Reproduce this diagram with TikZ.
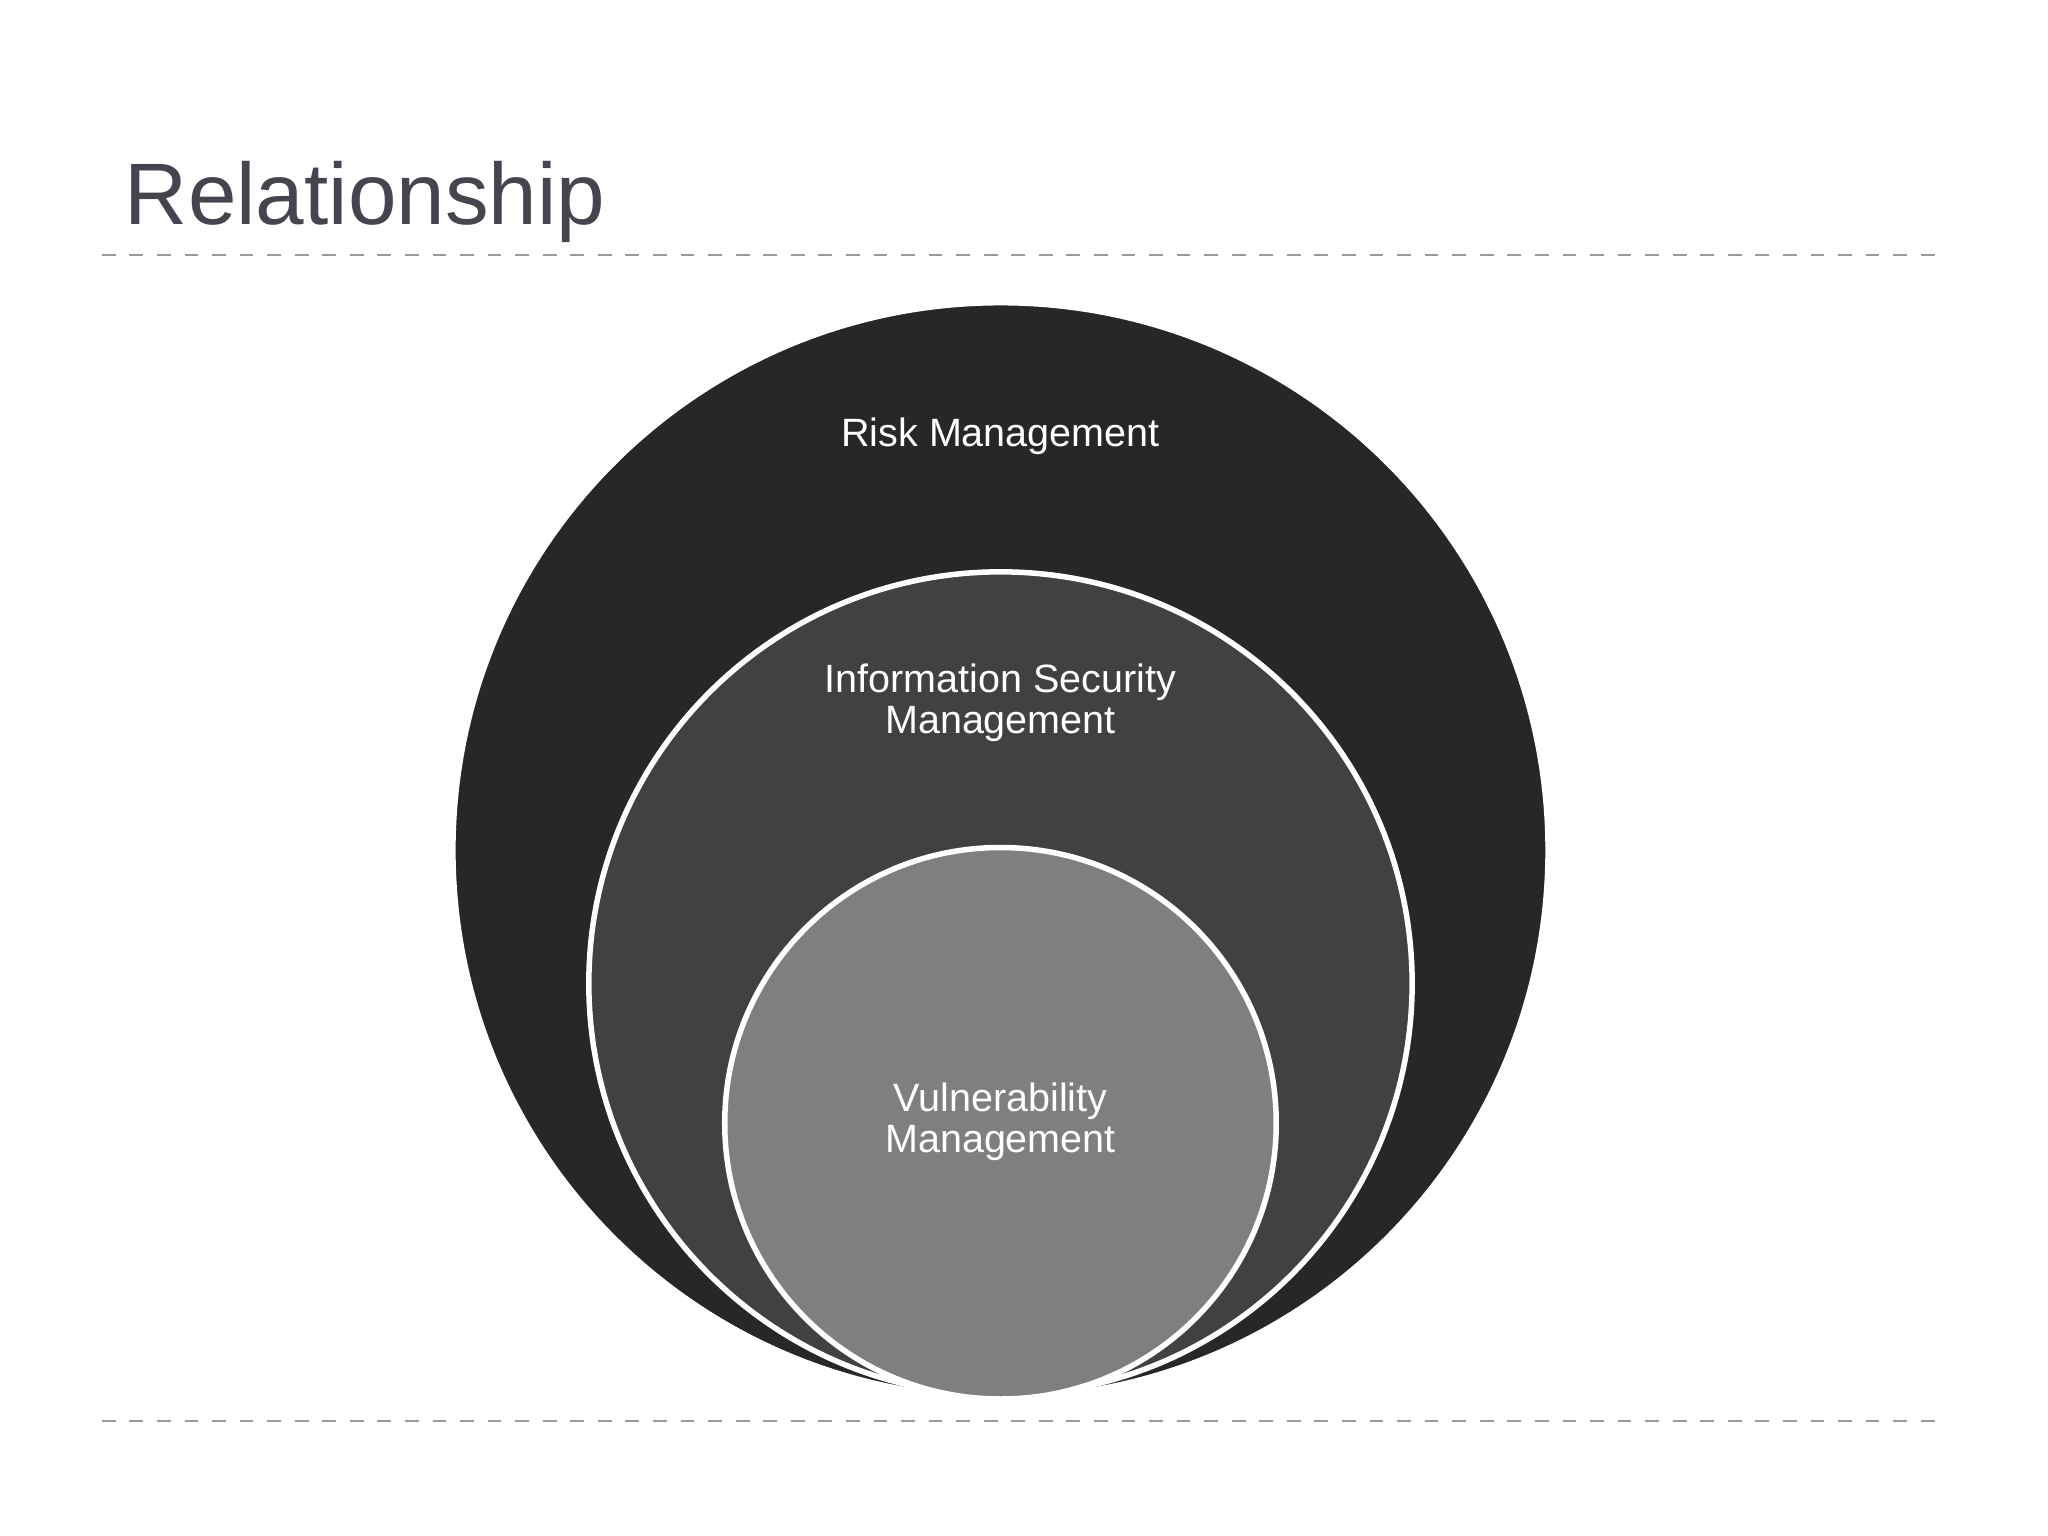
\documentclass[tikz,border=0pt]{standalone}
\usepackage{fontspec}
\setmainfont{Liberation Sans}
\definecolor{ctitle}{HTML}{45454F}
\definecolor{couter}{HTML}{27272A}
\definecolor{cmid}{HTML}{414143}
\definecolor{cin}{HTML}{7F7F81}
\definecolor{cdash}{HTML}{9A9A9A}
\tikzset{ring/.style={circle,draw=white,line width=1.2pt,inner sep=0pt},
lab/.style={text=white,font=\fontsize{8.6}{9}\selectfont,align=center},
sep/.style={draw=cdash,dashed,line width=0.5pt}}
\begin{document}
\begin{tikzpicture}[x=0.01cm,y=-0.01cm]
\useasboundingbox (0,0) rectangle (1568,1176);
\node[ring,fill=couter,minimum size=8.38cm] (outer) at (766,651) {};
\node[ring,fill=cmid,minimum size=6.30cm] (mid) at (766,753) {};
\node[ring,fill=cin,minimum size=4.22cm] (inner) at (766,860) {};
\node[lab] (t1) at (766,334) {Risk Management};
\node[lab] (t2) at (766,538) {Information Security\\Management};
\node[lab] (t3) at (766,859) {Vulnerability\\Management};
\node[anchor=base west,text=ctitle,font=\fontsize{19}{22}\selectfont,inner sep=0pt] (title) at (95,172) {Relationship};
\coordinate (a1) at (78,195); \coordinate (a2) at (1490,195);
\coordinate (b1) at (78,1088); \coordinate (b2) at (1490,1088);
\draw[sep] (a1) -- (a2);
\draw[sep] (b1) -- (b2);
\end{tikzpicture}
\end{document}
